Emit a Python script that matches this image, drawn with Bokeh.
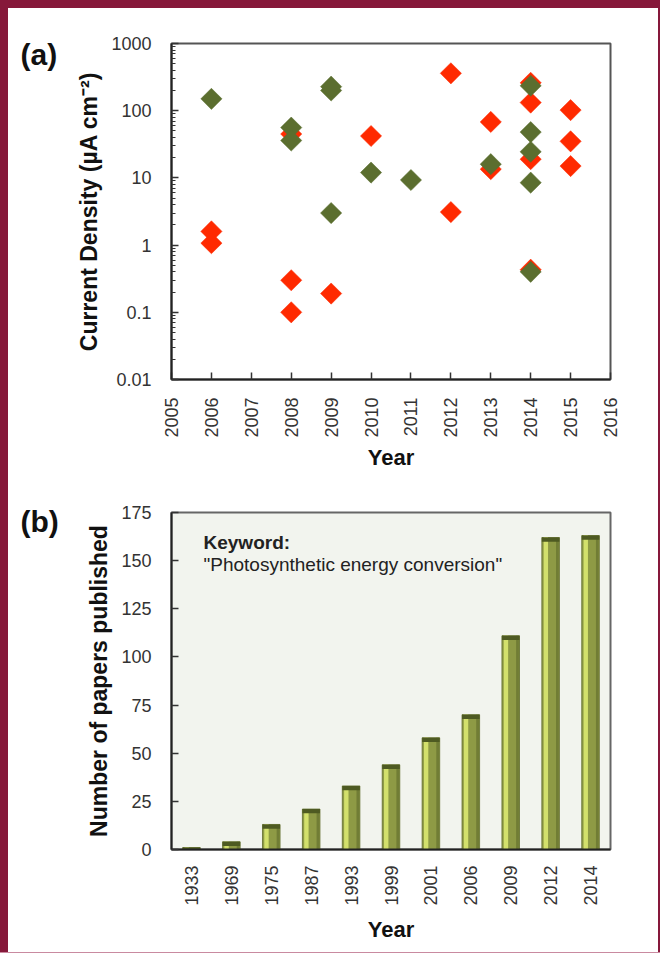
import numpy as np
from bokeh.plotting import figure
from bokeh.models import (ColumnDataSource, FactorRange, Range1d, FixedTicker,
                          CustomJSTickFormatter, Label, Div)
from bokeh.layouts import column, row
from bokeh.transform import dodge
from bokeh.embed import file_html
from bokeh.resources import INLINE

# ---------------- data: panel (a) ----------------
red_years = [2006, 2006, 2008, 2008, 2008, 2009, 2010, 2012, 2012, 2013, 2013,
             2014, 2014, 2014, 2014, 2015, 2015, 2015]
red_density = [1.6, 1.07, 45, 0.3, 0.1, 0.19, 42, 360, 3.1, 68, 13.5,
               260, 132, 19, 0.43, 102, 35, 15]
green_years = [2006, 2008, 2008, 2009, 2009, 2009, 2010, 2011, 2013,
               2014, 2014, 2014, 2014, 2014]
green_density = [150, 56, 36, 200, 228, 3.0, 12, 9.3, 16,
                 235, 48, 24.5, 8.5, 0.40]
year_ticks_a = list(range(2005, 2017))
density_ticks = [0.01, 0.1, 1, 10, 100, 1000]

# ---------------- data: panel (b) ----------------
pub_years = ["1933", "1969", "1975", "1987", "1993", "1999", "2001",
             "2006", "2009", "2012", "2014"]
papers = [1, 4, 13, 21, 33, 44, 58, 70, 111, 162, 163]
paper_ticks = [0, 25, 50, 75, 100, 125, 150, 175]

FONT = "Liberation Sans"
MAROON = "#86183A"
RED = "#FF2A00"
GREEN = "#5B6E2F"


def panel_letter(p, text, standoff):
    p.title.text = text
    p.title.align = "left"
    p.title.offset = -151
    p.title.vertical_align = "bottom"
    p.title.standoff = standoff
    p.title.text_font = FONT
    p.title.text_font_style = "bold"
    p.title.text_font_size = "30px"
    p.title.text_color = "#111111"


# ---------------- panel (a) ----------------
p1 = figure(width=650, height=479, x_range=Range1d(2005, 2016),
            y_range=Range1d(0.01, 1000), y_axis_type="log",
            output_backend="svg", toolbar_location=None,
            min_border_left=163, min_border_right=48,
            min_border_top=35, min_border_bottom=108)
p1.grid.visible = False
p1.outline_line_color = "#555555"
p1.outline_line_width = 2

src_r = ColumnDataSource(dict(x=red_years, y=red_density))
src_g = ColumnDataSource(dict(x=green_years, y=green_density))
p1.scatter("x", "y", source=src_r, marker="square", angle=np.pi / 4, size=15,
           fill_color=RED, line_color=RED, line_width=0.5)
p1.scatter("x", "y", source=src_g, marker="square", angle=np.pi / 4, size=15,
           fill_color=GREEN, line_color=GREEN, line_width=0.5)

minor = [m * 10.0 ** e for e in range(-2, 3) for m in range(2, 10)]
p1.yaxis.ticker = FixedTicker(ticks=density_ticks, minor_ticks=minor)
p1.yaxis.formatter = CustomJSTickFormatter(code="return String(Number(tick.toPrecision(4)));")
p1.xaxis.ticker = FixedTicker(ticks=year_ticks_a)
p1.xaxis.major_label_orientation = np.pi / 2

for ax in (p1.xaxis[0], p1.yaxis[0]):
    ax.axis_line_color = "#222222"
    ax.axis_line_width = 2
    ax.major_tick_in = 7
    ax.major_tick_out = 0
    ax.major_tick_line_color = "#333333"
    ax.major_tick_line_width = 1.5
    ax.minor_tick_in = 4
    ax.minor_tick_out = 0
    ax.minor_tick_line_color = "#333333"
    ax.major_label_text_font = FONT
    ax.major_label_text_font_size = "18px"
    ax.major_label_text_color = "#333333"
    ax.axis_label_text_font = FONT
    ax.axis_label_text_font_style = "bold"
    ax.axis_label_text_color = "#111111"
p1.xaxis.minor_tick_line_color = None
p1.xaxis.major_label_standoff = 18
p1.yaxis.major_label_standoff = 20
p1.xaxis.axis_label = "Year"
p1.xaxis.axis_label_text_font_size = "22px"
p1.xaxis.axis_label_standoff = 4
p1.yaxis.axis_label = "Current Density (µA cm⁻²)"
p1.yaxis.axis_label_text_font_size = "23px"
p1.yaxis.axis_label_standoff = 6
panel_letter(p1, "(a)", -54)

# ---------------- panel (b) ----------------
p2 = figure(width=650, height=465, x_range=FactorRange(*pub_years),
            y_range=Range1d(0, 175), output_backend="svg",
            toolbar_location=None,
            min_border_left=163, min_border_right=34,
            min_border_top=25, min_border_bottom=103)
p2.grid.visible = False
p2.background_fill_color = "#F2F4EE"
p2.outline_line_color = "#666666"
p2.outline_line_width = 2

cap = [max(v - 2.2, 0) for v in papers]
src_b = ColumnDataSource(dict(year=pub_years, n=papers, cap=cap))
p2.vbar(x="year", top="n", width=0.44, source=src_b,
        fill_color="#8E9A45", line_color="#5E6A2A", line_width=0.8)
p2.vbar(x=dodge("year", -0.12, range=p2.x_range), top="n", width=0.11,
        source=src_b, fill_color="#D3E06C", line_color=None)
p2.vbar(x=dodge("year", 0.17, range=p2.x_range), top="n", width=0.07,
        source=src_b, fill_color="#717D35", line_color=None)
p2.vbar(x="year", top="n", bottom="cap", width=0.44, source=src_b,
        fill_color="#4E5A22", line_color=None)

p2.yaxis.ticker = FixedTicker(ticks=paper_ticks)
p2.xaxis.major_label_orientation = np.pi / 2
for ax in (p2.xaxis[0], p2.yaxis[0]):
    ax.axis_line_color = "#222222"
    ax.axis_line_width = 2
    ax.major_tick_in = 7
    ax.major_tick_out = 0
    ax.major_tick_line_color = "#333333"
    ax.major_tick_line_width = 1.5
    ax.minor_tick_line_color = None
    ax.major_label_text_font = FONT
    ax.major_label_text_font_size = "18px"
    ax.major_label_text_color = "#333333"
    ax.axis_label_text_font = FONT
    ax.axis_label_text_font_style = "bold"
    ax.axis_label_text_color = "#111111"
p2.xaxis.major_tick_line_color = None
p2.xaxis.major_label_standoff = 16
p2.yaxis.major_label_standoff = 20
p2.xaxis.axis_label = "Year"
p2.xaxis.axis_label_text_font_size = "22px"
p2.xaxis.axis_label_standoff = 8
p2.yaxis.axis_label = "Number of papers published"
p2.yaxis.axis_label_text_font_size = "23px"
p2.yaxis.axis_label_standoff = 6
panel_letter(p2, "(b)", -50)

p2.add_layout(Label(x=32, y=297, x_units="screen", y_units="screen",
                    text="Keyword:", text_font=FONT, text_font_style="bold",
                    text_font_size="19px", text_color="#222222"))
p2.add_layout(Label(x=32, y=275, x_units="screen", y_units="screen",
                    text='"Photosynthetic energy conversion"', text_font=FONT,
                    text_font_size="19px", text_color="#222222"))

# ---------------- frame ----------------
top_bar = Div(width=660, height=8, margin=0, styles={"background-color": MAROON})
left_bar = Div(width=8, height=944, margin=0, styles={"background-color": MAROON})
right_bar = Div(width=2, height=944, margin=0, styles={"background-color": MAROON})
bottom_bar = Div(width=660, height=1, margin=0, styles={"background-color": "#C98AA0"})

layout = column(top_bar, row(left_bar, column(p1, p2, spacing=0), right_bar, spacing=0),
                bottom_bar, spacing=0)

open("out.html", "w").write(file_html(layout, INLINE))
